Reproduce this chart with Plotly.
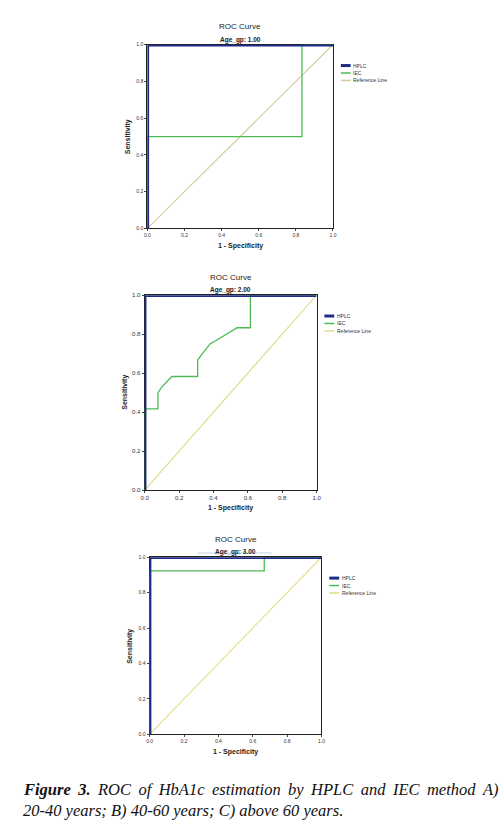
import plotly.graph_objects as go

# ---------------- data ----------------
hplc_x = [0.0, 0.0, 1.0]
hplc_y = [0.0, 1.0, 1.0]
ref_x = [0.0, 1.0]
ref_y = [0.0, 1.0]

iec1_x = [0.0, 0.0, 0.833, 0.833, 1.0]
iec1_y = [0.0, 0.5, 0.5, 1.0, 1.0]

iec2_x = [0.0, 0.0, 0.077, 0.077, 0.10, 0.158, 0.308, 0.308, 0.33, 0.38, 0.42, 0.50, 0.538, 0.615, 0.615, 1.0]
iec2_y = [0.0, 0.417, 0.417, 0.50, 0.53, 0.583, 0.583, 0.667, 0.694, 0.75, 0.77, 0.81, 0.833, 0.833, 1.0, 1.0]

iec3_x = [0.0, 0.0, 0.667, 0.667, 1.0]
iec3_y = [0.0, 0.923, 0.923, 1.0, 1.0]

subtitles = ["Age_gp: 1.00", "Age_gp: 2.00", "Age_gp: 3.00"]
tick_vals = [0.0, 0.2, 0.4, 0.6, 0.8, 1.0]
tick_text = ["0.0", "0.2", "0.4", "0.6", "0.8", "1.0"]
legend_names = ["HPLC", "IEC", "Reference Line"]

# ---------------- styling / layout ----------------
W, H = 500, 828
NAVY = "#1e2c86"
GREEN = "#4cbb55"
FONT = "Liberation Sans, Arial, sans-serif"

# plot boxes in pixels: (left, right, top, bottom)
boxes = [(146, 335, 42, 227), (143.3, 318.3, 294.3, 490.7), (148.3, 323.3, 558.3, 736.7)]
tick_sizes = [5, 6, 5]
iec_sets = [(iec1_x, iec1_y), (iec2_x, iec2_y), (iec3_x, iec3_y)]
ref_colors = ["#d6cc98", "#e0d98a", "#e4dc86"]

def px(x):
    return x / W

def py(y):
    return 1 - y / H

fig = go.Figure()
annotations = []
shapes = []

for i, (l, r, t, b) in enumerate(boxes):
    n = i + 1
    xa = "x" if n == 1 else f"x{n}"
    ya = "y" if n == 1 else f"y{n}"
    ix, iy = iec_sets[i]
    fig.add_trace(go.Scatter(x=ref_x, y=ref_y, mode="lines", name=legend_names[2],
                             line=dict(color=ref_colors[i], width=1.1), xaxis=xa, yaxis=ya, showlegend=False))
    fig.add_trace(go.Scatter(x=ix, y=iy, mode="lines", name=legend_names[1],
                             line=dict(color=GREEN, width=1.3), xaxis=xa, yaxis=ya, showlegend=False))
    fig.add_trace(go.Scatter(x=hplc_x, y=hplc_y, mode="lines", name=legend_names[0],
                             line=dict(color=NAVY, width=3.5), xaxis=xa, yaxis=ya, showlegend=False))

    axcommon = dict(range=[0, 1], showgrid=False, zeroline=False, showline=True, linecolor="#222222",
                    linewidth=1.2, mirror=True, ticks="outside", ticklen=2, tickcolor="#444444",
                    tickvals=tick_vals, ticktext=tick_text, layer="below traces",
                    tickfont=dict(family=FONT, size=tick_sizes[i], color="#333333"), fixedrange=True)
    fig.update_layout(**{
        ("xaxis" if n == 1 else f"xaxis{n}"): dict(domain=[px(l), px(r)], anchor=ya, **axcommon),
        ("yaxis" if n == 1 else f"yaxis{n}"): dict(domain=[py(b), py(t)], anchor=xa, **axcommon),
    })

    cx = (l + r) / 2
    annotations.append(dict(x=px(cx), y=py(t - 18), xref="paper", yref="paper", text="ROC Curve",
                            showarrow=False, font=dict(family=FONT, size=8, color="#222222"),
                            xanchor="center", yanchor="middle"))
    annotations.append(dict(x=px(cx), y=py(t - 5), xref="paper", yref="paper", text=f"<b>{subtitles[i]}</b>",
                            showarrow=False, font=dict(family=FONT, size=6.5, color="#222222"),
                            xanchor="center", yanchor="middle"))
    annotations.append(dict(x=px(cx), y=py(b + 18), xref="paper", yref="paper", text="<b>1 - Specificity</b>",
                            showarrow=False, font=dict(family=FONT, size=7, color="#222222"),
                            xanchor="center", yanchor="middle"))
    annotations.append(dict(x=px(l - 20), y=py((t + b) / 2), xref="paper", yref="paper", text="<b>Sensitivity</b>",
                            showarrow=False, font=dict(family=FONT, size=7, color="#222222"), textangle=-90,
                            xanchor="center", yanchor="middle"))

    # legend (drawn manually)
    lx0 = r + 8
    ly0 = t + 21
    cols = [NAVY, GREEN, ref_colors[i]]
    widths = [3, 1.5, 1.5]
    for k in range(3):
        yy = ly0 + k * 7.5
        shapes.append(dict(type="line", xref="paper", yref="paper", x0=px(lx0), x1=px(lx0 + 10),
                           y0=py(yy), y1=py(yy), line=dict(color=cols[k], width=widths[k])))
        annotations.append(dict(x=px(lx0 + 10.5), y=py(yy), xref="paper", yref="paper", text=legend_names[k],
                                showarrow=False, font=dict(family=FONT, size=5, color="#333333"),
                                xanchor="left", yanchor="middle"))

# faint line under third subtitle
shapes.append(dict(type="line", xref="paper", yref="paper", x0=px(197), x1=px(273), y0=py(554), y1=py(554),
                   line=dict(color="#c8d4e8", width=1)))

# caption
SERIF = "Liberation Serif, Times New Roman, serif"
sp = " &#8201;"
line1_words = ["ROC", "of", "HbA1c", "estimation", "by", "HPLC", "and", "IEC", "method", "A)"]
line1 = "<b><i>Figure" + sp + "3.</i></b><i>" + sp + sp.join(line1_words) + "</i>"
annotations.append(dict(x=px(17), y=py(792), xref="paper", yref="paper", text=line1,
                        showarrow=False, font=dict(family=SERIF, size=16.5, color="#111111"),
                        xanchor="left", yanchor="middle"))
annotations.append(dict(x=px(17), y=py(813), xref="paper", yref="paper",
                        text="<i>20-40 years; B) 40-60 years; C) above 60 years.</i>",
                        showarrow=False, font=dict(family=SERIF, size=16.5, color="#111111"),
                        xanchor="left", yanchor="middle"))

fig.update_layout(width=W, height=H, margin=dict(l=0, r=0, t=0, b=0),
                  paper_bgcolor="white", plot_bgcolor="white",
                  annotations=annotations, shapes=shapes, showlegend=False)

fig.write_html("out.html", config={"displayModeBar": False},
               post_script="document.body.style.margin='0';document.body.style.padding='0';")
